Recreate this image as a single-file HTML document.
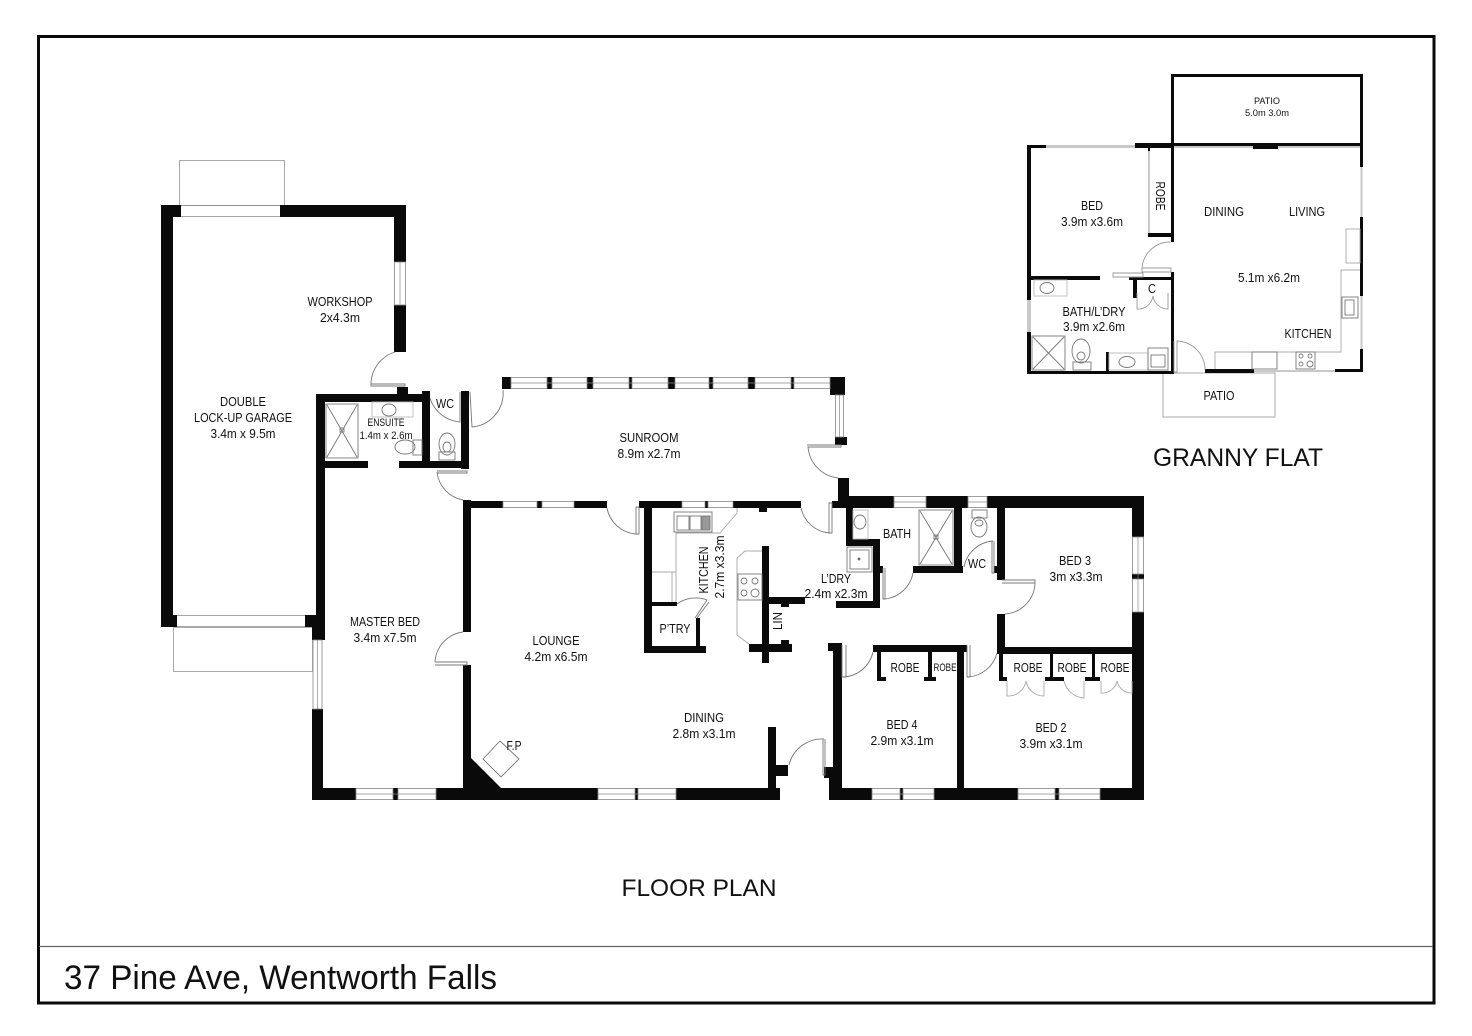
<!DOCTYPE html>
<html><head><meta charset="utf-8"><style>
html,body{margin:0;padding:0;background:#fff}
svg{display:block}
text{font-family:"Liberation Sans",sans-serif;fill:#111;text-anchor:middle;font-size:13px}
.b rect,.b polygon{fill:#0a0a0a}
.t{fill:none;stroke:#777;stroke-width:.9}
.l{fill:none;stroke:#aaa;stroke-width:1}
.w{fill:#fff;stroke:#888;stroke-width:.8}
</style></head><body>
<svg width="1472" height="1036" viewBox="0 0 1472 1036" xmlns="http://www.w3.org/2000/svg">
<rect width="1472" height="1036" fill="#fff"/>
<rect x="38.500" y="36.500" width="1395.500" height="966.500" fill="none" stroke="#0a0a0a" stroke-width="3"/>
<line x1="39" y1="946.500" x2="1433" y2="946.500" stroke="#666" stroke-width="1.200"/>

<!-- external patios -->
<rect x="179.500" y="160.500" width="105" height="45" class="l"/>
<rect x="173.500" y="627.500" width="139" height="44" class="l"/>
<rect x="1163" y="373" width="112" height="44" class="l"/>

<g class="b">
<!-- garage -->
<rect x="161" y="205" width="12" height="422"/>
<rect x="161" y="205" width="20" height="12"/>
<rect x="280" y="205" width="126" height="12"/>
<rect x="394" y="205" width="12" height="57"/>
<rect x="394" y="305" width="12" height="47"/>
<rect x="161" y="615" width="16" height="12"/>
<rect x="305" y="615" width="20" height="12"/>
<!-- ensuite / WC -->
<rect x="316" y="394" width="114" height="8"/>
<rect x="397" y="387" width="11" height="8"/>
<rect x="316" y="394" width="9" height="246"/>
<rect x="422" y="391" width="8" height="72"/>
<rect x="461" y="391" width="8" height="78"/>
<rect x="325" y="461" width="43" height="7"/>
<rect x="399" y="461" width="70" height="7"/>
<!-- master bed -->
<rect x="312" y="627" width="11" height="13"/>
<rect x="312" y="709" width="11" height="91"/>
<!-- bottom wall -->
<rect x="312" y="788" width="44" height="12"/>
<rect x="393" y="788" width="5" height="12"/>
<rect x="436" y="788" width="162" height="12"/>
<rect x="635" y="788" width="3" height="12"/>
<rect x="676" y="788" width="104" height="12"/>
<polygon points="463,758 471,758 501,788 501,790 463,790"/>
<!-- lounge -->
<rect x="463" y="500" width="8" height="132"/>
<rect x="463" y="665" width="8" height="125"/>
<rect x="463" y="501" width="40" height="7"/>
<rect x="537" y="501" width="5" height="7"/>
<rect x="574" y="501" width="33" height="7"/>
<rect x="639" y="501" width="43" height="7"/>
<rect x="705" y="501" width="3" height="7"/>
<rect x="733" y="501" width="68" height="7"/>
<rect x="759" y="507" width="8" height="5"/>
<!-- kitchen -->
<rect x="644" y="501" width="8" height="152"/>
<rect x="644" y="646" width="62" height="7"/>
<rect x="696" y="618" width="4" height="29"/>
<rect x="652" y="602" width="25" height="4"/>
<!-- LIN -->
<rect x="762" y="546" width="7" height="117"/>
<rect x="769" y="597" width="36" height="7"/>
<rect x="781" y="603" width="8" height="4"/>
<rect x="749" y="644" width="43" height="8"/>
<rect x="781" y="640" width="8" height="5"/>
<!-- sunroom -->
<rect x="502" y="377" width="9" height="12"/>
<rect x="547" y="377" width="5" height="12"/>
<rect x="587" y="377" width="6" height="12"/>
<rect x="629" y="377" width="3" height="12"/>
<rect x="668" y="377" width="7" height="12"/>
<rect x="709" y="377" width="4" height="12"/>
<rect x="748" y="377" width="7" height="12"/>
<rect x="791" y="377" width="3" height="12"/>
<rect x="830" y="377" width="15" height="18"/>
<rect x="835" y="437" width="12" height="8"/>
<rect x="838" y="478" width="11" height="30"/>
<rect x="832" y="501" width="14" height="7"/>
<!-- east wing -->
<rect x="838" y="496" width="56" height="12"/>
<rect x="926" y="496" width="42" height="12"/>
<rect x="987" y="496" width="157" height="12"/>
<rect x="846" y="508" width="7" height="38"/>
<rect x="846" y="539" width="34" height="7"/>
<rect x="873" y="539" width="7" height="69"/>
<rect x="836" y="601" width="44" height="7"/>
<rect x="880" y="566" width="3" height="7"/>
<rect x="913" y="566" width="50" height="7"/>
<rect x="954" y="508" width="8" height="65"/>
<rect x="997" y="508" width="8" height="72"/>
<rect x="994" y="566" width="4" height="7"/>
<rect x="997" y="614" width="8" height="40"/>
<rect x="999" y="653" width="4" height="27"/>
<rect x="997" y="647" width="147" height="7"/>
<rect x="1132" y="496" width="12" height="41"/>
<rect x="1132" y="574" width="12" height="5"/>
<rect x="1132" y="612" width="12" height="188"/>
<rect x="829" y="788" width="43" height="12"/>
<rect x="900" y="788" width="3" height="12"/>
<rect x="934" y="788" width="84" height="12"/>
<rect x="1055" y="788" width="4" height="12"/>
<rect x="1100" y="788" width="44" height="12"/>
<rect x="833" y="643" width="9" height="157"/>
<rect x="828" y="643" width="14" height="8"/>
<rect x="824" y="767" width="10" height="11"/>
<rect x="829" y="778" width="6" height="22"/>
<rect x="873" y="645" width="94" height="7"/>
<rect x="957" y="645" width="7" height="155"/>
<rect x="877" y="652" width="4" height="29"/>
<rect x="877" y="677" width="9" height="4"/>
<rect x="928" y="652" width="4" height="29"/>
<rect x="924" y="677" width="12" height="4"/>
<rect x="999" y="677" width="8" height="4"/>
<rect x="1050" y="654" width="3" height="27"/>
<rect x="1045" y="677" width="19" height="4"/>
<rect x="1092" y="654" width="3" height="27"/>
<rect x="1085" y="677" width="15" height="4"/>
<!-- dining stub -->
<rect x="768" y="727" width="8" height="73"/>
<rect x="776" y="765" width="12" height="11"/>

<!-- granny flat -->
<rect x="1171" y="74" width="192" height="3"/>
<rect x="1171" y="74" width="3" height="73"/>
<rect x="1360" y="74" width="3" height="73"/>
<rect x="1135" y="143" width="228" height="3"/>
<rect x="1253" y="144" width="25" height="5"/>
<rect x="1027" y="145" width="19" height="3"/>
<rect x="1135" y="145" width="37" height="3"/>
<rect x="1027" y="145" width="4" height="155"/>
<rect x="1027" y="332" width="4" height="42"/>
<rect x="1171" y="145" width="3" height="97"/>
<rect x="1148" y="233" width="23" height="4"/>
<rect x="1148" y="148" width="2" height="3"/>
<rect x="1171" y="272" width="3" height="102"/>
<rect x="1027" y="276" width="73" height="4"/>
<rect x="1129" y="277" width="42" height="3"/>
<rect x="1133" y="280" width="4" height="18"/>
<rect x="1027" y="371" width="147" height="3"/>
<rect x="1106" y="352" width="3" height="19"/>
<rect x="1205" y="369" width="49" height="4"/>
<rect x="1335" y="369" width="28" height="3"/>
<rect x="1360" y="147" width="3" height="20"/>
<rect x="1360" y="217" width="3" height="79"/>
<rect x="1360" y="349" width="3" height="23"/>
</g>

<!-- windows -->
<g class="w">
<rect x="394.500" y="262" width="11" height="43"/>
<rect x="313" y="640" width="9" height="69"/>
<rect x="356" y="788.500" width="37" height="11"/><rect x="398" y="788.500" width="38" height="11"/>
<rect x="598" y="788.500" width="37" height="11"/><rect x="638" y="788.500" width="38" height="11"/>
<rect x="503" y="501.500" width="34" height="6"/><rect x="542" y="501.500" width="32" height="6"/>
<rect x="682" y="501.500" width="23" height="6"/><rect x="708" y="501.500" width="25" height="6"/>
<rect x="511" y="377.500" width="36" height="11"/><rect x="552" y="377.500" width="35" height="11"/><rect x="593" y="377.500" width="36" height="11"/><rect x="632" y="377.500" width="36" height="11"/><rect x="675" y="377.500" width="34" height="11"/><rect x="713" y="377.500" width="35" height="11"/><rect x="755" y="377.500" width="36" height="11"/><rect x="794" y="377.500" width="36" height="11"/>
<rect x="835.500" y="395" width="8" height="42"/>
<rect x="894" y="496.500" width="32" height="11"/>
<rect x="968" y="496.500" width="19" height="11"/>
<rect x="1132.500" y="537" width="11" height="37"/><rect x="1132.500" y="579" width="11" height="33"/>
<rect x="872" y="788.500" width="28" height="11"/><rect x="903" y="788.500" width="31" height="11"/>
<rect x="1018" y="788.500" width="37" height="11"/><rect x="1059" y="788.500" width="41" height="11"/>
</g>
<g stroke="#888" stroke-width=".7">
<line x1="400" y1="262" x2="400" y2="305"/><line x1="317.500" y1="640" x2="317.500" y2="709"/>
<line x1="511" y1="383" x2="830" y2="383"/><line x1="356" y1="794" x2="436" y2="794"/><line x1="598" y1="794" x2="676" y2="794"/>
<line x1="872" y1="794" x2="934" y2="794"/><line x1="1018" y1="794" x2="1100" y2="794"/>
<line x1="894" y1="502" x2="926" y2="502"/><line x1="968" y1="502" x2="987" y2="502"/>
<line x1="1138" y1="537" x2="1138" y2="612"/><line x1="839.500" y1="395" x2="839.500" y2="437"/>
<line x1="181" y1="216.500" x2="280" y2="216.500"/><line x1="181" y1="205.500" x2="280" y2="205.500"/>
<line x1="177" y1="615.500" x2="305" y2="615.500"/><line x1="177" y1="626.500" x2="305" y2="626.500"/>
</g>

<!-- doors -->
<g class="t">
<path d="M395 352 A34 34 0 0 0 371 386 L405 386 L405 384 L371 384"/>
<path d="M430 398 A34 34 0 0 0 460 422 L460 392"/>
<path d="M470 392 L472 427 A34 34 0 0 0 503 390"/>
<path d="M437 473 L467 473 L467 471 L437 471 M437 472 A32 32 0 0 0 463 500"/>
<path d="M435 665 L467 665 L467 662 L435 662 M435 662 A32 32 0 0 1 463 632"/>
<path d="M607 508 A32 32 0 0 0 636 534 L639 534 L639 507 L636 507 L636 534"/>
<path d="M801 508 A32 32 0 0 0 829 533 L832 533 L832 503 L829 503 L829 533"/>
<path d="M807 445 L841 445 L841 447 L808 447 A34 34 0 0 0 838 478"/>
<path d="M677 604 A32 32 0 0 1 707 600 L695 618 M709 602 L697 618"/>
<path d="M824 739 A34 34 0 0 0 789 765 M823 739 L823 775 L825 775 L825 739"/>
<path d="M883 568 L883 599 L885 599 L885 568 M885 599 A32 32 0 0 0 913 573"/>
<path d="M993 541 A32 32 0 0 0 964 567 M992 541 L992 573 L994 573 L994 541"/>
<path d="M1002 580 L1035 580 L1035 583 L1002 583 M1035 583 A32 32 0 0 1 1005 614"/>
<path d="M842 645 L842 677 L846 677 L846 645 M843 677 A32 32 0 0 0 873 652"/>
<path d="M967 645 L967 677 L970 677 L970 645 M968 677 A32 32 0 0 0 997 653"/>
<path d="M1007 681 L1007 696 A18 18 0 0 0 1026 681 M1044 681 L1044 696 A18 18 0 0 1 1026 681" stroke="#aaa"/>
<path d="M1064 681 A22 22 0 0 0 1084 698 L1084 681" stroke="#aaa"/>
<path d="M1101 681 L1101 693 A15 15 0 0 0 1117 681 M1132 681 L1132 693 A15 15 0 0 1 1117 681" stroke="#aaa"/>
<path d="M1170 242 A28 28 0 0 0 1142 270 M1142 268 L1171 268 L1171 272 L1142 272 Z" stroke="#999"/>
<path d="M1113 273 L1143 273 L1143 277 L1113 277 Z" stroke="#999"/>
<path d="M1137 293 L1137 309 A15 15 0 0 0 1153 296 A15 15 0 0 0 1168 309 L1168 293" stroke="#999"/>
<path d="M1174 341 L1174 372 L1177 372 L1177 341 A29 29 0 0 1 1205 370" stroke="#999"/>
</g>

<!-- fixtures -->
<g class="t" stroke="#999">
<!-- ensuite -->
<rect x="326" y="404" width="32" height="54"/><path d="M327 405 L357 457 M357 405 L327 457"/><rect x="340" y="428" width="4" height="4"/>
<rect x="372" y="402" width="41" height="15" stroke="#bbb"/><ellipse cx="389" cy="410" rx="7" ry="6"/>
<ellipse cx="405" cy="447" rx="10" ry="7"/><rect x="413" y="440" width="9" height="15"/>
<ellipse cx="447" cy="444" rx="8" ry="11"/><ellipse cx="447" cy="447" rx="4" ry="5"/><rect x="439" y="452" width="16" height="8"/>
<!-- kitchen -->
<rect x="674" y="512" width="38" height="20"/><rect x="677" y="516" width="12" height="14"/><rect x="690" y="516" width="11" height="14"/><rect x="702" y="516" width="8" height="14" fill="#999"/>
<path d="M737 508 L737 513 L720 533 L676 533 L676 602 M652 572 L676 572 M672 572 L672 602" stroke="#aaa"/>
<path d="M762 551 L745 551 L737 558 L737 635 L749 644" stroke="#aaa"/>
<rect x="738" y="574" width="24" height="26"/><circle cx="744" cy="581" r="3"/><circle cx="755" cy="581" r="3"/><circle cx="744" cy="593" r="3"/><circle cx="755" cy="593" r="4"/>
<path d="M500 741 L519 759 L501 777 L483 759 Z"/>
<!-- bath -->
<rect x="853" y="510" width="15" height="29" stroke="#bbb"/><ellipse cx="860" cy="522" rx="6" ry="7"/>
<rect x="847" y="547" width="25" height="25"/><rect x="850" y="550" width="19" height="19"/><circle cx="859" cy="559" r="1" fill="#333"/>
<rect x="919" y="510" width="34" height="55"/><path d="M920 511 L952 564 M952 511 L920 564"/><rect x="934" y="535" width="4" height="4"/>
<rect x="972" y="510" width="15" height="8"/><ellipse cx="979" cy="527" rx="8" ry="10"/><ellipse cx="979" cy="523" rx="4" ry="3"/>
<!-- granny fixtures -->
<rect x="1034" y="280" width="33" height="16" stroke="#bbb"/><ellipse cx="1047" cy="288" rx="7" ry="5.500"/>
<rect x="1032" y="336" width="33" height="34"/><path d="M1033 337 L1064 369 M1064 337 L1033 369"/>
<ellipse cx="1081" cy="351" rx="9" ry="12"/><ellipse cx="1081" cy="356" rx="4" ry="4"/><rect x="1073" y="362" width="18" height="8"/>
<rect x="1109" y="353" width="39" height="17" stroke="#bbb"/><ellipse cx="1127" cy="362" rx="8" ry="5.500"/>
<rect x="1148" y="348" width="20" height="22"/><rect x="1151" y="355" width="14" height="12"/>
<path d="M1360 270 L1341 270 L1341 352 L1215 352 L1215 369" stroke="#aaa"/>
<rect x="1252" y="352" width="25" height="17"/><rect x="1296" y="352" width="19" height="17"/>
<circle cx="1301" cy="356" r="2"/><circle cx="1310" cy="356" r="2"/><circle cx="1301" cy="364" r="2"/><circle cx="1310" cy="364" r="3"/>
<rect x="1342" y="297" width="16" height="21"/><rect x="1345" y="300" width="9" height="15"/>
<rect x="1346" y="229" width="14" height="34" stroke="#aaa"/>
</g>
<g stroke="#c9c9c9" fill="none">
<line x1="1046" y1="146.500" x2="1135" y2="146.500" stroke-width="3"/>
<line x1="1149" y1="151" x2="1149" y2="233" stroke-width="2"/>
<line x1="1029" y1="300" x2="1029" y2="332" stroke-width="4"/>
<line x1="1361.500" y1="167" x2="1361.500" y2="217" stroke-width="2"/>
<line x1="1361.500" y1="296" x2="1361.500" y2="349" stroke-width="2"/>
<line x1="1254" y1="371" x2="1335" y2="371" stroke-width="2"/>
<line x1="1174" y1="147" x2="1253" y2="147" stroke-width="2"/>
<line x1="1278" y1="147" x2="1360" y2="147" stroke-width="2"/>
</g>

<!-- labels -->
<text x="340" y="306" textLength="65" lengthAdjust="spacingAndGlyphs">WORKSHOP</text>
<text x="340" y="322" textLength="40" lengthAdjust="spacingAndGlyphs">2x4.3m</text>
<text x="243" y="406" textLength="46" lengthAdjust="spacingAndGlyphs">DOUBLE</text>
<text x="243" y="422" textLength="98" lengthAdjust="spacingAndGlyphs">LOCK-UP GARAGE</text>
<text x="243" y="438" textLength="65" lengthAdjust="spacingAndGlyphs">3.4m x 9.5m</text>
<text x="386" y="426" style="font-size:11px" textLength="37" lengthAdjust="spacingAndGlyphs">ENSUITE</text>
<text x="386" y="439" style="font-size:11px" textLength="53" lengthAdjust="spacingAndGlyphs">1.4m x 2.6m</text>
<text x="445" y="408" textLength="18" lengthAdjust="spacingAndGlyphs">WC</text>
<text x="649" y="442" textLength="59" lengthAdjust="spacingAndGlyphs">SUNROOM</text>
<text x="649" y="458" textLength="63" lengthAdjust="spacingAndGlyphs">8.9m x2.7m</text>
<text x="556" y="645" textLength="47" lengthAdjust="spacingAndGlyphs">LOUNGE</text>
<text x="556" y="661" textLength="63" lengthAdjust="spacingAndGlyphs">4.2m x6.5m</text>
<text x="385" y="626" textLength="70" lengthAdjust="spacingAndGlyphs">MASTER BED</text>
<text x="385" y="642" textLength="63" lengthAdjust="spacingAndGlyphs">3.4m x7.5m</text>
<text x="704" y="722" textLength="40" lengthAdjust="spacingAndGlyphs">DINING</text>
<text x="704" y="738" textLength="63" lengthAdjust="spacingAndGlyphs">2.8m x3.1m</text>
<text x="514" y="750" textLength="15" lengthAdjust="spacingAndGlyphs">F.P</text>
<text transform="translate(708,570) rotate(-90)" textLength="47" lengthAdjust="spacingAndGlyphs">KITCHEN</text>
<text transform="translate(724,567) rotate(-90)" textLength="63" lengthAdjust="spacingAndGlyphs">2.7m x3.3m</text>
<text x="675" y="633" textLength="31" lengthAdjust="spacingAndGlyphs">P’TRY</text>
<text transform="translate(782,621) rotate(-90)" textLength="18" lengthAdjust="spacingAndGlyphs">LIN</text>
<text x="836" y="583" textLength="30" lengthAdjust="spacingAndGlyphs">L’DRY</text>
<text x="836" y="598" textLength="63" lengthAdjust="spacingAndGlyphs">2.4m x2.3m</text>
<text x="897" y="538" textLength="28" lengthAdjust="spacingAndGlyphs">BATH</text>
<text x="977" y="568" textLength="18" lengthAdjust="spacingAndGlyphs">WC</text>
<text x="1075" y="565" textLength="32" lengthAdjust="spacingAndGlyphs">BED 3</text>
<text x="1076" y="581" textLength="53" lengthAdjust="spacingAndGlyphs">3m x3.3m</text>
<text x="905" y="672" textLength="29" lengthAdjust="spacingAndGlyphs">ROBE</text>
<text x="945" y="671" style="font-size:11px" textLength="23" lengthAdjust="spacingAndGlyphs">ROBE</text>
<text x="1028" y="672" textLength="29" lengthAdjust="spacingAndGlyphs">ROBE</text>
<text x="1072" y="672" textLength="29" lengthAdjust="spacingAndGlyphs">ROBE</text>
<text x="1115" y="672" textLength="29" lengthAdjust="spacingAndGlyphs">ROBE</text>
<text x="902" y="729" textLength="31" lengthAdjust="spacingAndGlyphs">BED 4</text>
<text x="902" y="745" textLength="63" lengthAdjust="spacingAndGlyphs">2.9m x3.1m</text>
<text x="1051" y="732" textLength="31" lengthAdjust="spacingAndGlyphs">BED 2</text>
<text x="1051" y="748" textLength="63" lengthAdjust="spacingAndGlyphs">3.9m x3.1m</text>
<text x="699" y="896" style="font-size:24px" textLength="155" lengthAdjust="spacingAndGlyphs">FLOOR PLAN</text>
<text x="1238" y="466" style="font-size:25px" textLength="170" lengthAdjust="spacingAndGlyphs">GRANNY FLAT</text>
<text x="64" y="989" style="font-size:34px;text-anchor:start" textLength="433" lengthAdjust="spacingAndGlyphs">37 Pine Ave, Wentworth Falls</text>

<text x="1267" y="104" style="font-size:9px" textLength="26" lengthAdjust="spacingAndGlyphs">PATIO</text>
<text x="1267" y="116" style="font-size:9px" textLength="44" lengthAdjust="spacingAndGlyphs">5.0m 3.0m</text>
<text x="1092" y="210" textLength="22" lengthAdjust="spacingAndGlyphs">BED</text>
<text x="1092" y="226" textLength="62" lengthAdjust="spacingAndGlyphs">3.9m x3.6m</text>
<text transform="translate(1156,196) rotate(90)" textLength="29" lengthAdjust="spacingAndGlyphs">ROBE</text>
<text x="1224" y="216" textLength="40" lengthAdjust="spacingAndGlyphs">DINING</text>
<text x="1307" y="216" textLength="36" lengthAdjust="spacingAndGlyphs">LIVING</text>
<text x="1269" y="282" textLength="62" lengthAdjust="spacingAndGlyphs">5.1m x6.2m</text>
<text x="1308" y="338" textLength="47" lengthAdjust="spacingAndGlyphs">KITCHEN</text>
<text x="1152" y="293" textLength="8" lengthAdjust="spacingAndGlyphs">C</text>
<text x="1094" y="316" textLength="63" lengthAdjust="spacingAndGlyphs">BATH/L’DRY</text>
<text x="1094" y="331" textLength="62" lengthAdjust="spacingAndGlyphs">3.9m x2.6m</text>
<text x="1219" y="400" textLength="31" lengthAdjust="spacingAndGlyphs">PATIO</text>
</svg>
</body></html>
